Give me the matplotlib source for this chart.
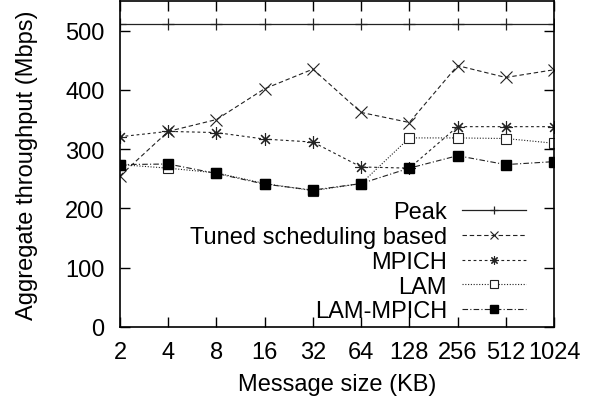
import matplotlib
matplotlib.use("Agg")

import matplotlib.pyplot as plt
import numpy as np

plt.rcParams["font.family"] = ["Liberation Sans", "DejaVu Sans"]

sizes = [2, 4, 8, 16, 32, 64, 128, 256, 512, 1024]
peak = [512] * 10
tuned = [255, 330, 350, 402, 435, 362, 345, 441, 421, 434]
mpich = [321, 330, 328, 317, 312, 270, 268, 338, 338, 338]
lam = [274, 268, 260, 242, 230, 242, 319, 319, 318, 310]
lam_mpich = [274, 275, 259, 241, 231, 242, 268, 289, 274, 279]

FS = 17

fig = plt.figure(figsize=(5.92, 4.06), dpi=100)
ax = fig.add_axes([120 / 592, 1 - 328 / 406, 434 / 592, 326 / 406])

x = np.log2(sizes) - 1
lc = "#222222"
ax.plot(x, peak, color=lc, lw=0.9, marker="+", ms=8, mew=0.9, label="Peak")
ax.plot(x, tuned, color=lc, lw=0.8, ls=(0, (4, 2.5)), marker="x", ms=8, mew=0.8,
        label="Tuned scheduling based")
ax.plot(x, mpich, color=lc, lw=0.8, ls=(0, (2.5, 2.5)), marker=(8, 2, 0), ms=9, mew=0.8,
        label="MPICH")
ax.plot(x, lam, color=lc, lw=0.8, ls=(0, (1, 1.5)), marker="s", ms=7, mew=0.8,
        mfc="white", label="LAM")
ax.plot(x, lam_mpich, color=lc, lw=0.8, ls=(0, (5, 2, 1, 2)), marker="s", ms=7,
        mfc="black", mec="black", label="LAM-MPICH")

ax.set_xlim(0, 9)
ax.set_ylim(0, 550)
ax.set_xticks(x)
ax.set_xticklabels([str(s) for s in sizes])
ax.set_yticks([0, 100, 200, 300, 400, 500])
ax.tick_params(direction="in", length=7, width=1, top=True, right=True,
               labelsize=FS)
ax.tick_params(axis="y", pad=11)
ax.tick_params(axis="x", pad=10)
for s in ax.spines.values():
    s.set_linewidth(1.2)

ax.set_xlabel("Message size (KB)", fontsize=FS, labelpad=7)
ax.set_ylabel("Aggregate throughput (Mbps)", fontsize=FS, labelpad=20)

leg = ax.legend(loc="lower right", bbox_to_anchor=(0.9355, 0.014), frameon=False,
                markerfirst=False, fontsize=FS, handlelength=2.7, handletextpad=0.64,
                labelspacing=0.12, borderpad=0, borderaxespad=0)
for h in leg.legend_handles:
    h.set_markersize(6)

fig.savefig("out.png", dpi=100)
